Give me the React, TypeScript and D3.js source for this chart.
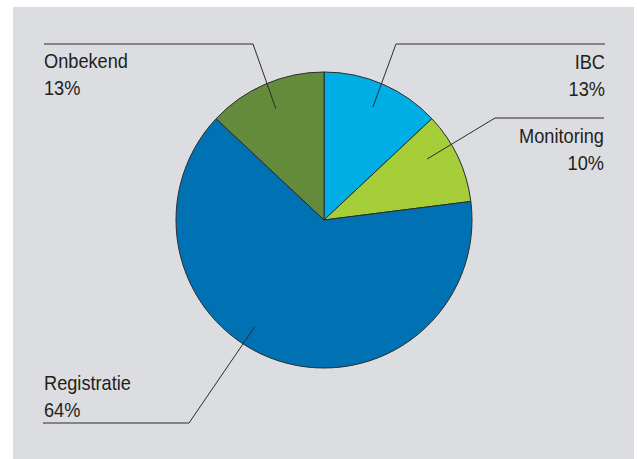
import React from "react";
import * as d3 from "d3";

const categories = ["IBC", "Monitoring", "Registratie", "Onbekend"];
const values = [13, 10, 64, 13];
const valueLabels = ["13%", "10%", "64%", "13%"];
const colors = ["#00aee6", "#a6ce39", "#0071b2", "#648a3c"];

const W = 637;
const H = 459;
const cx = 324;
const cy = 220;
const R = 148;

// label layout: anchor fraction within slice, elbow point, line end, text pos
const labelLayout = [
  { frac: 0.5, rf: 0.83, elbow: [396, 44], end: [605, 44], tx: 605, ty: 69, anchor: "end" },
  { frac: 0.35, rf: 0.81, elbow: [495, 118], end: [604, 118], tx: 604, ty: 143, anchor: "end" },
  { frac: 0.565, rf: 0.86, elbow: [189, 423], end: [43, 423], tx: 44, ty: 390, anchor: "start" },
  { frac: 0.5, rf: 0.82, elbow: [253, 44], end: [44, 44], tx: 44, ty: 68, anchor: "start" },
];

const SX = 0.91;

export default function App() {
  const data = categories.map((c, i) => ({ c, v: values[i], i }));
  const pie = d3.pie<any>().value((d) => d.v).sort(null);
  const arcs = pie(data);
  const arc = d3.arc<any>().innerRadius(0).outerRadius(R);

  return (
    <svg
      width={W}
      height={H}
      style={{ position: "absolute", left: 0, top: 0, background: "#fff" }}
      fontFamily="'Liberation Sans', Arial, sans-serif"
    >
      <rect x={13} y={7} width={621} height={460} fill="#dcdde0" />
      <g transform={`translate(${cx},${cy})`}>
        {arcs.map((a, i) => (
          <path key={i} d={arc(a) || ""} fill={colors[i]} stroke="#2b2b2b" strokeWidth={1} strokeLinejoin="round" />
        ))}
      </g>
      {arcs.map((a, i) => {
        const L = labelLayout[i];
        const ang = a.startAngle + L.frac * (a.endAngle - a.startAngle);
        const px = cx + Math.sin(ang) * R * L.rf;
        const py = cy - Math.cos(ang) * R * L.rf;
        return (
          <g key={i}>
            <polyline
              points={`${px},${py} ${L.elbow[0]},${L.elbow[1]} ${L.end[0]},${L.end[1]}`}
              fill="none"
              stroke="#2b2b2b"
              strokeWidth={1}
            />
            <g transform={`translate(${L.tx},${L.ty}) scale(${SX},1)`}>
              <text x={0} y={0} textAnchor={L.anchor as any} fontSize={20} fill="#231f20">
                {categories[i]}
              </text>
              <text x={0} y={27} textAnchor={L.anchor as any} fontSize={20} fill="#231f20">
                {valueLabels[i]}
              </text>
            </g>
          </g>
        );
      })}
    </svg>
  );
}
